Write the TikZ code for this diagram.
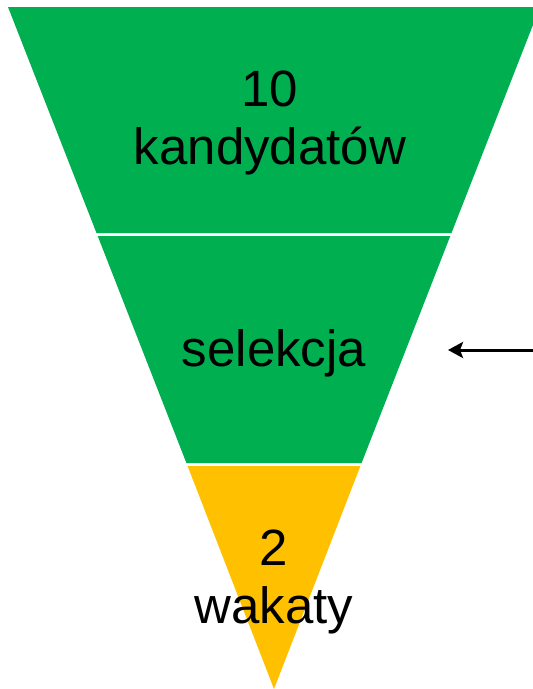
\documentclass[tikz,border=0pt]{standalone}
\usepackage{fontspec}
\setmainfont{Liberation Sans}
\usetikzlibrary{arrows.meta}
\definecolor{zielony}{HTML}{00B050}
\definecolor{zolty}{HTML}{FFC000}

\begin{document}
\begin{tikzpicture}[x=1pt, y=-1pt,
		napis/.style={align=center, inner sep=0pt, font=\fontsize{51}{58}\selectfont}]
			%%%%% START %%%%%
			\useasboundingbox (0, 0) rectangle (533, 689);
			\clip (0, 0) rectangle (533, 689);
			
			\fill[zielony] (8, 7) -- (540, 7) -- (451.5, 233) -- (96.5, 233) -- cycle;
			\fill[zielony] (97.7, 236) -- (450.3, 236) -- (361.6, 463) -- (186.4, 463) -- cycle;
			\fill[zolty] (187.6, 466) -- (360.4, 466) -- (274, 689) -- cycle;
			
			\node[napis] (kandydaci) at (270, 123) {10\\kandydatów};
			\node[napis, anchor=base] (selekcja) at (274, 366) {selekcja};
			\node[napis] (wakaty) at (274, 582) {2\\wakaty};
			
			\coordinate (start) at (533, 350);
			\coordinate (grot) at (448, 350);
			\draw[line width=3pt, -{Stealth[length=15pt, width=16pt, inset=3pt]}] (start) -- (grot);
			%%%%% END %%%%%
		\end{tikzpicture}
\end{document}
